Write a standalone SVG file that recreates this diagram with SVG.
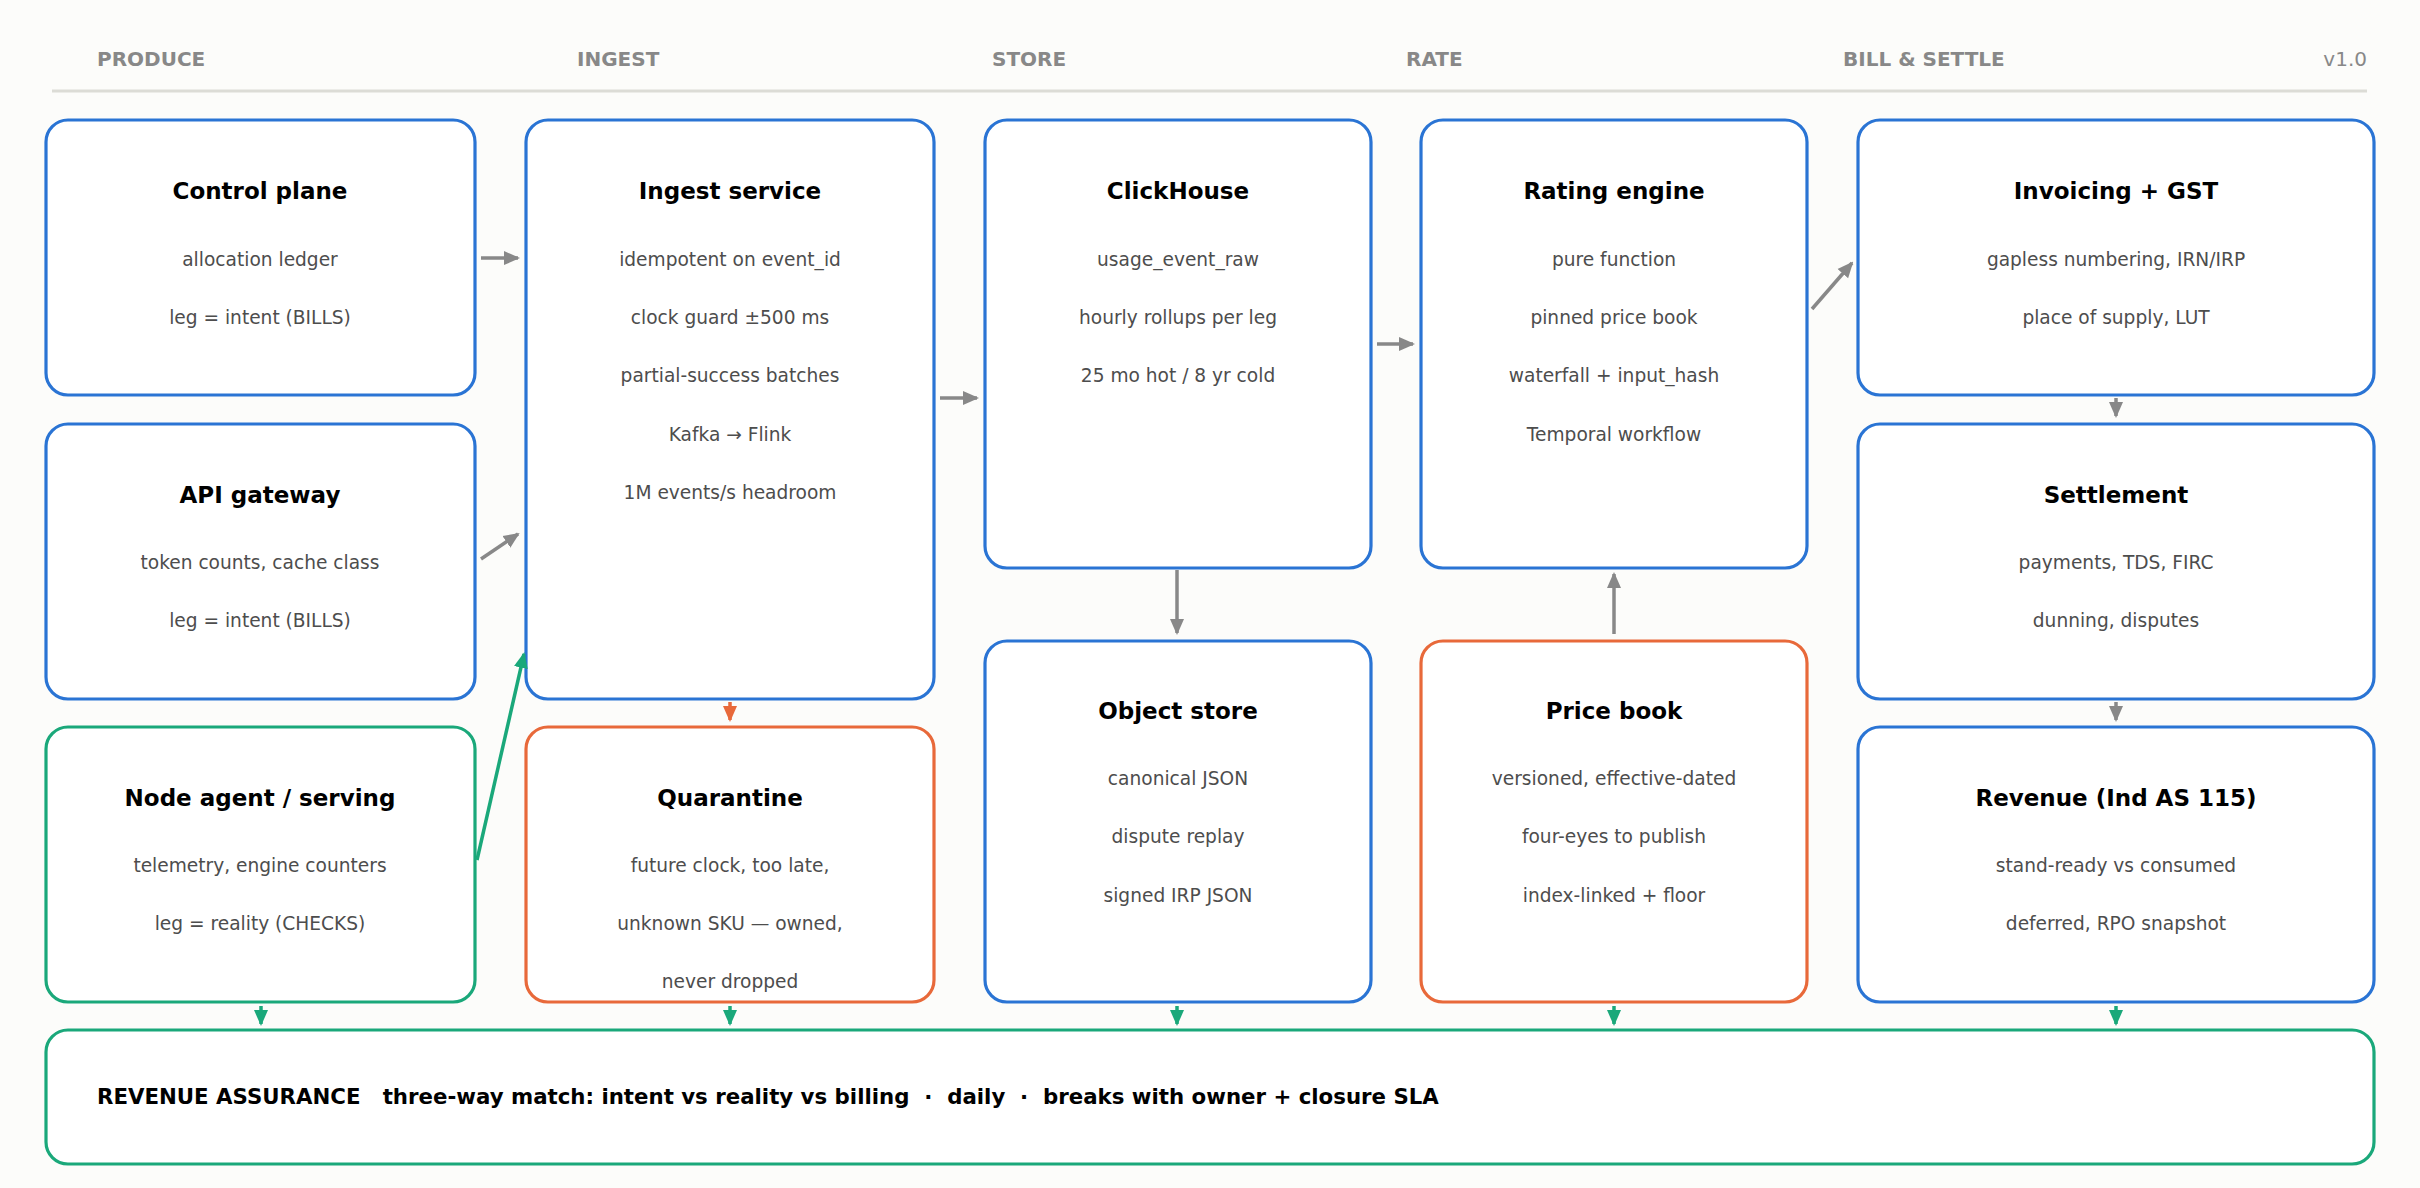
<svg xmlns="http://www.w3.org/2000/svg" width="2420" height="1188" viewBox="0 0 2420 1188">
<style>
.bg{fill:#fcfcfa}
.box{fill:#fff;stroke-width:3.2}
.b{stroke:#2a74d4}.g{stroke:#1aa87a}.o{stroke:#e8693a}
.hdr{font-family:"DejaVu Sans",sans-serif;font-weight:bold;font-size:20px;fill:#888}
.t{font-family:"DejaVu Sans",sans-serif;font-weight:bold;font-size:23px;fill:#000;text-anchor:middle}
.d{font-family:"DejaVu Sans",sans-serif;font-size:18.6px;fill:#4d4d4d;text-anchor:middle}
.ra{font-family:"DejaVu Sans",sans-serif;font-weight:bold;font-size:21.3px;fill:#000;white-space:pre}
.c{fill:none;stroke-width:3.5}
</style>
<defs>
<marker id="ag" markerUnits="userSpaceOnUse" markerWidth="16" markerHeight="16" refX="14" refY="8" orient="auto"><path d="M0,1 L16,8 L0,15 Z" fill="#888"/></marker>
<marker id="agr" markerUnits="userSpaceOnUse" markerWidth="16" markerHeight="16" refX="14" refY="8" orient="auto"><path d="M0,1 L16,8 L0,15 Z" fill="#1aa87a"/></marker>
<marker id="ao" markerUnits="userSpaceOnUse" markerWidth="16" markerHeight="16" refX="14" refY="8" orient="auto"><path d="M0,1 L16,8 L0,15 Z" fill="#e8693a"/></marker>
</defs>
<rect class="bg" width="2420" height="1188"/>
<g id="header">
<text class="hdr" x="97" y="66">PRODUCE</text>
<text class="hdr" x="577" y="66">INGEST</text>
<text class="hdr" x="992" y="66">STORE</text>
<text class="hdr" x="1406" y="66">RATE</text>
<text class="hdr" x="1843" y="66">BILL &amp; SETTLE</text>
<text class="hdr" x="2367" y="66" text-anchor="end" style="font-weight:normal">v1.0</text>
<line x1="52" y1="91" x2="2367" y2="91" stroke="#dcdcd6" stroke-width="3"/>
</g>
<g id="control-plane"><rect class="box b" x="46" y="120" width="429" height="275" rx="22"/>
<text class="t" x="260" y="199">Control plane</text><text class="d" x="260" y="266">allocation ledger</text><text class="d" x="260" y="324">leg = intent (BILLS)</text></g>
<g id="api-gateway"><rect class="box b" x="46" y="424" width="429" height="275" rx="22"/>
<text class="t" x="260" y="503">API gateway</text><text class="d" x="260" y="569">token counts, cache class</text><text class="d" x="260" y="627">leg = intent (BILLS)</text></g>
<g id="node-agent"><rect class="box g" x="46" y="727" width="429" height="275" rx="22"/>
<text class="t" x="260" y="806">Node agent / serving</text><text class="d" x="260" y="872">telemetry, engine counters</text><text class="d" x="260" y="930">leg = reality (CHECKS)</text></g>
<g id="ingest"><rect class="box b" x="526" y="120" width="408" height="579" rx="22"/>
<text class="t" x="730" y="199">Ingest service</text>
<text class="d" x="730" y="266">idempotent on event_id</text><text class="d" x="730" y="324">clock guard ±500 ms</text><text class="d" x="730" y="382">partial-success batches</text><text class="d" x="730" y="441">Kafka → Flink</text><text class="d" x="730" y="499">1M events/s headroom</text></g>
<g id="quarantine"><rect class="box o" x="526" y="727" width="408" height="275" rx="22"/>
<text class="t" x="730" y="806">Quarantine</text><text class="d" x="730" y="872">future clock, too late,</text><text class="d" x="730" y="930">unknown SKU — owned,</text><text class="d" x="730" y="988">never dropped</text></g>
<g id="clickhouse"><rect class="box b" x="985" y="120" width="386" height="448" rx="22"/>
<text class="t" x="1178" y="199">ClickHouse</text><text class="d" x="1178" y="266">usage_event_raw</text><text class="d" x="1178" y="324">hourly rollups per leg</text><text class="d" x="1178" y="382">25 mo hot / 8 yr cold</text></g>
<g id="object-store"><rect class="box b" x="985" y="641" width="386" height="361" rx="22"/>
<text class="t" x="1178" y="719">Object store</text><text class="d" x="1178" y="785">canonical JSON</text><text class="d" x="1178" y="843">dispute replay</text><text class="d" x="1178" y="902">signed IRP JSON</text></g>
<g id="rating"><rect class="box b" x="1421" y="120" width="386" height="448" rx="22"/>
<text class="t" x="1614" y="199">Rating engine</text><text class="d" x="1614" y="266">pure function</text><text class="d" x="1614" y="324">pinned price book</text><text class="d" x="1614" y="382">waterfall + input_hash</text><text class="d" x="1614" y="441">Temporal workflow</text></g>
<g id="price-book"><rect class="box o" x="1421" y="641" width="386" height="361" rx="22"/>
<text class="t" x="1614" y="719">Price book</text><text class="d" x="1614" y="785">versioned, effective-dated</text><text class="d" x="1614" y="843">four-eyes to publish</text><text class="d" x="1614" y="902">index-linked + floor</text></g>
<g id="invoicing"><rect class="box b" x="1858" y="120" width="516" height="275" rx="22"/>
<text class="t" x="2116" y="199">Invoicing + GST</text><text class="d" x="2116" y="266">gapless numbering, IRN/IRP</text><text class="d" x="2116" y="324">place of supply, LUT</text></g>
<g id="settlement"><rect class="box b" x="1858" y="424" width="516" height="275" rx="22"/>
<text class="t" x="2116" y="503">Settlement</text><text class="d" x="2116" y="569">payments, TDS, FIRC</text><text class="d" x="2116" y="627">dunning, disputes</text></g>
<g id="revenue"><rect class="box b" x="1858" y="727" width="516" height="275" rx="22"/>
<text class="t" x="2116" y="806">Revenue (Ind AS 115)</text><text class="d" x="2116" y="872">stand-ready vs consumed</text><text class="d" x="2116" y="930">deferred, RPO snapshot</text></g>
<g id="revenue-assurance"><rect class="box g" x="46" y="1030" width="2328" height="134" rx="22"/>
<text class="ra" x="97" y="1104" xml:space="preserve">REVENUE ASSURANCE   three-way match: intent vs reality vs billing  ·  daily  ·  breaks with owner + closure SLA</text></g>
<g id="connectors">
<line class="c" stroke="#888" marker-end="url(#ag)" x1="481" y1="258" x2="518" y2="258"/>
<line class="c" stroke="#888" marker-end="url(#ag)" x1="481" y1="559" x2="518" y2="534"/>
<line class="c" stroke="#1aa87a" marker-end="url(#agr)" x1="477" y1="860" x2="524" y2="654"/>
<line class="c" stroke="#888" marker-end="url(#ag)" x1="940" y1="398" x2="977" y2="398"/>
<line class="c" stroke="#888" marker-end="url(#ag)" x1="1177" y1="570" x2="1177" y2="633"/>
<line class="c" stroke="#888" marker-end="url(#ag)" x1="1377" y1="344" x2="1413" y2="344"/>
<line class="c" stroke="#888" marker-end="url(#ag)" x1="1614" y1="634" x2="1614" y2="574"/>
<line class="c" stroke="#888" marker-end="url(#ag)" x1="1812" y1="309" x2="1852" y2="263"/>
<line class="c" stroke="#888" marker-end="url(#ag)" x1="2116" y1="398" x2="2116" y2="416"/>
<line class="c" stroke="#888" marker-end="url(#ag)" x1="2116" y1="702" x2="2116" y2="720"/>
<line class="c" stroke="#e8693a" marker-end="url(#ao)" x1="730" y1="702" x2="730" y2="720"/>
<line class="c" stroke="#1aa87a" marker-end="url(#agr)" x1="261" y1="1006" x2="261" y2="1024"/>
<line class="c" stroke="#1aa87a" marker-end="url(#agr)" x1="730" y1="1006" x2="730" y2="1024"/>
<line class="c" stroke="#1aa87a" marker-end="url(#agr)" x1="1177" y1="1006" x2="1177" y2="1024"/>
<line class="c" stroke="#1aa87a" marker-end="url(#agr)" x1="1614" y1="1006" x2="1614" y2="1024"/>
<line class="c" stroke="#1aa87a" marker-end="url(#agr)" x1="2116" y1="1006" x2="2116" y2="1024"/>
</g>
</svg>
